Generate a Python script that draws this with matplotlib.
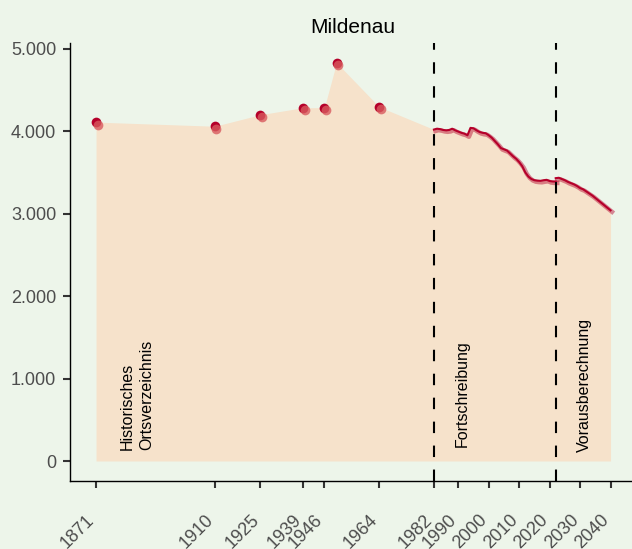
import matplotlib
matplotlib.use("Agg")
import matplotlib.pyplot as plt
import matplotlib.transforms as mtransforms
from matplotlib.ticker import FuncFormatter

plt.rcParams['font.family'] = ['Liberation Sans', 'DejaVu Sans']

# Historisches Ortsverzeichnis
hist_years = [1871, 1910, 1925, 1939, 1946, 1950, 1964]
hist_pop = [4110, 4060, 4200, 4285, 4285, 4830, 4295]

# Fortschreibung
fort_years = list(range(1982, 2023))
fort_pop = [4020, 4030, 4025, 4015, 4010, 4015, 4030, 4010, 3995, 3980,
            3970, 3950, 4040, 4035, 4010, 3990, 3980, 3975, 3950, 3920,
            3880, 3840, 3795, 3780, 3765, 3730, 3695, 3665, 3625, 3575,
            3500, 3450, 3420, 3405, 3400, 3398, 3405, 3410, 3395, 3390,
            3390]

# Vorausberechnung
proj_years = list(range(2022, 2041))
proj_pop = [3430, 3435, 3420, 3405, 3385, 3370, 3355, 3335, 3310, 3295,
            3270, 3245, 3220, 3190, 3160, 3130, 3100, 3070, 3040]

tick_years = [1871, 1910, 1925, 1939, 1946, 1964, 1982, 1990, 2000, 2010,
              2020, 2030, 2040]
phase_breaks = [1982, 2022]

BG = '#EDF5EA'
FILL = '#F6E2CB'
RED = '#B5002A'

fig = plt.figure(figsize=(6.32, 5.49), dpi=100, facecolor=BG)
ax = fig.add_axes([0.111, 0.124, 0.896, 0.798], facecolor=BG)

area_years = hist_years + fort_years + proj_years[1:]
area_pop = hist_pop + fort_pop + proj_pop[1:]
ax.fill_between(area_years, 0, area_pop, color=FILL, lw=0, zorder=1)

# lighter shadow copy, shifted a little right/down
shift = mtransforms.offset_copy(ax.transData, fig=fig, x=1.5, y=-1.5, units='dots')
ax.plot(fort_years, fort_pop, color=RED, alpha=0.45, lw=3.2, transform=shift, zorder=2)
ax.plot(proj_years, proj_pop, color=RED, alpha=0.45, lw=3.2, transform=shift, zorder=2)
ax.plot(fort_years, fort_pop, color=RED, lw=1.5, zorder=3)
ax.plot(proj_years, proj_pop, color=RED, lw=1.5, zorder=3)

ax.plot(hist_years, hist_pop, 'o', color=RED, ms=7, mew=0, zorder=4)
ax.plot(hist_years, hist_pop, 'o', color='#D85A5E', alpha=0.8, ms=7, mew=0,
        transform=mtransforms.offset_copy(ax.transData, fig=fig, x=1.5, y=-2.5, units='dots'),
        zorder=5)

for x in phase_breaks:
    ax.axvline(x, color='black', lw=1.5, ls=(0, (5.5, 6)), zorder=6)

ax.text(1884.5, 130, 'Historisches\nOrtsverzeichnis', rotation=90, ha='center',
        va='bottom', multialignment='left', fontsize=11.5, linespacing=1.4, zorder=7)
ax.text(1991.4, 165, 'Fortschreibung', rotation=90, ha='center', va='bottom',
        fontsize=11.5, zorder=7)
ax.text(2031.5, 110, 'Vorausberechnung', rotation=90, ha='center', va='bottom',
        fontsize=11.5, zorder=7)

ax.set_xlim(1862.5, 2048.5)
ax.set_ylim(-241.5, 5071.5)
ax.set_xticks(tick_years)
ax.set_xticklabels([str(y) for y in tick_years], rotation=45, ha='right', va='top')
ax.set_yticks([0, 1000, 2000, 3000, 4000, 5000])
ax.yaxis.set_major_formatter(FuncFormatter(lambda v, p: f"{int(v):,}".replace(',', '.')))
ax.tick_params(axis='both', colors='#333333', labelcolor='#4D4D4D', labelsize=13,
               length=5, width=1.5, direction='out', pad=5)
ax.tick_params(axis='x', pad=17)
for lbl in ax.get_xticklabels():
    lbl.set_transform(lbl.get_transform() +
                      mtransforms.ScaledTranslation(2 / 100, 0, fig.dpi_scale_trans))

for s in ['top', 'right']:
    ax.spines[s].set_visible(False)
for s in ['left', 'bottom']:
    ax.spines[s].set_color('black')
    ax.spines[s].set_linewidth(1.0)

ax.set_title('Mildenau', fontsize=15, pad=7)

fig.savefig('out.png', dpi=100, facecolor=BG)
